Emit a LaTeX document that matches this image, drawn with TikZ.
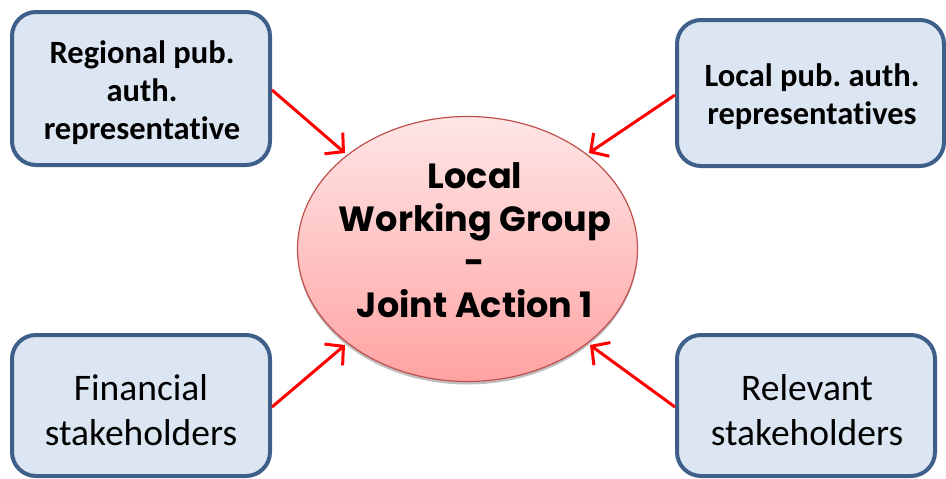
\documentclass[tikz,border=0pt]{standalone}
\usepackage{fontspec}
\setmainfont{Carlito}[Ligatures=NoCommon]
\newfontfamily\gothic{Poppins}
\frenchspacing
\usetikzlibrary{arrows.meta,shadows,shapes.geometric}
\definecolor{boxfill}{HTML}{DCE6F2}
\definecolor{boxline}{HTML}{3E5F8A}
\definecolor{ellline}{HTML}{C0504D}
\definecolor{elltop}{HTML}{FEE6E6}
\definecolor{ellbot}{HTML}{FFA3A3}
\definecolor{arrred}{HTML}{FF0000}
\tikzset{
  box/.style={draw=boxline, fill=boxfill, line width=4pt, rounded corners=24pt, inner sep=0pt},
  boldtxt/.style={align=center, inner sep=0pt, font=\fontsize{32.5}{38}\selectfont\bfseries},
  plaintxt/.style={align=center, inner sep=0pt, font=\fontsize{37.5}{45}\selectfont},
  hub/.style={ellipse, draw=ellline, line width=1.2pt, top color=elltop, bottom color=ellbot,
    drop shadow={shadow xshift=0pt, shadow yshift=-3pt, opacity=0.25, fill=black}},
  link/.style={draw=arrred, line width=3pt, -{Straight Barb[length=13pt,width=28pt,line width=3pt]}}
}
\begin{document}
\begin{tikzpicture}[x=1pt,y=-1pt]
\useasboundingbox (0,0) rectangle (946,479);
\node[hub, minimum width=340, minimum height=265, inner sep=0pt] (hub) at (467.5,249) {};
\node[align=center, font=\gothic\bfseries\fontsize{35}{43}\selectfont] (hubtxt) at (475,240)
  {Local\\Working Group\\-\\Joint Action 1};
\node[box, minimum width=258, minimum height=153] (tl) at (141,88.5) {};
\node[boldtxt] (tltxt) at (142,93) {Regional pub.\\auth.\\representative};
\node[box, minimum width=267, minimum height=146] (tr) at (810.5,93) {};
\node[boldtxt] (trtxt) at (812,97) {Local pub. auth.\\representatives};
\node[box, minimum width=258, minimum height=141] (bl) at (141,405.5) {};
\node[plaintxt] (bltxt) at (141,410) {Financial\\stakeholders};
\node[box, minimum width=258, minimum height=141] (br) at (806,405.5) {};
\node[plaintxt] (brtxt) at (807,410) {Relevant\\stakeholders};
\coordinate (tlin) at (345,153);
\coordinate (trin) at (589,153);
\coordinate (blin) at (345,345);
\coordinate (brin) at (590,345);
\draw[link] (tl.east |- 0,90) -- (tlin);
\draw[link] (tr.west |- 0,95) -- (trin);
\draw[link] (bl.east |- 0,407) -- (blin);
\draw[link] (br.west |- 0,407) -- (brin);
\end{tikzpicture}
\end{document}
